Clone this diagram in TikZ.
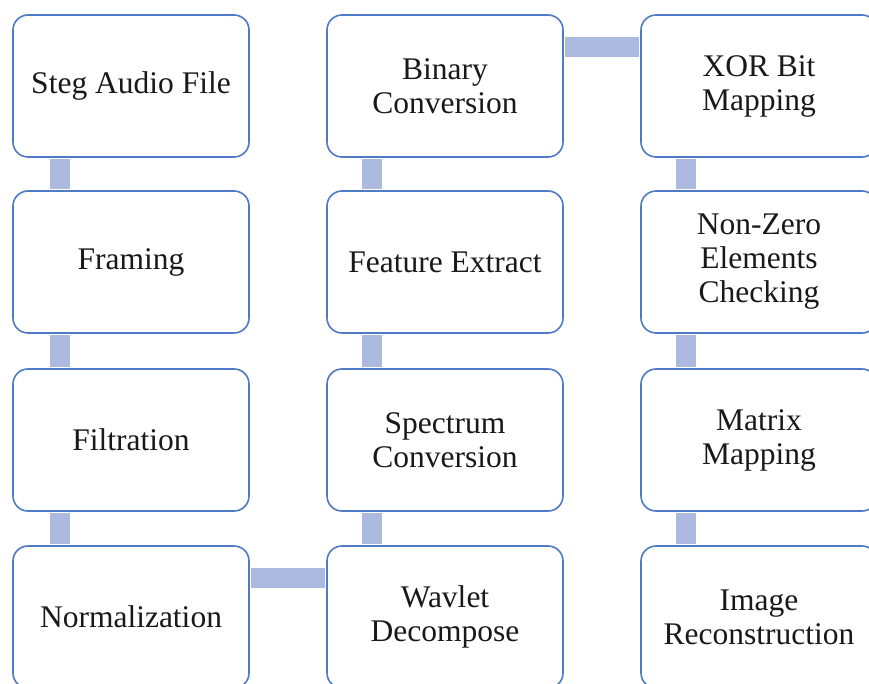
\documentclass[tikz,border=0pt]{standalone}
\usepackage{fontspec}
\setmainfont{Liberation Serif}
\usetikzlibrary{calc}
\definecolor{boxline}{HTML}{4F7BC6}
\definecolor{connfill}{HTML}{ADBADF}
\tikzset{
  stepbox/.style={draw=boxline, line width=1.6pt, fill=white, rounded corners=15pt,
    minimum width=236pt, minimum height=142pt, inner sep=0pt, align=center,
    font=\fontsize{31.5pt}{34pt}\selectfont, text=black!90},
  conn/.style={draw=connfill, line width=20pt}
}
\begin{document}
\begin{tikzpicture}[x=1pt,y=-1pt]
\useasboundingbox (0,0) rectangle (869,684);
% nodes
\node[stepbox] (steg) at (131,86) {Steg Audio File};
\node[stepbox] (fram) at (131,262) {Framing};
\node[stepbox] (filt) at (131,440) {Filtration};
\node[stepbox] (norm) at (131,617) {Normalization};
\node[stepbox] (bin) at (445,86) {Binary\\Conversion};
\node[stepbox] (feat) at (445,262) {Feature Extract};
\node[stepbox] (spec) at (445,440) {Spectrum\\Conversion};
\node[stepbox] (wav) at (445,617) {Wavlet\\Decompose};
\node[stepbox] (xor) at (759,86) {XOR Bit\\Mapping};
\node[stepbox] (nonz) at (759,262) {Non-Zero\\Elements\\Checking};
\node[stepbox] (matr) at (759,440) {Matrix\\Mapping};
\node[stepbox] (img) at (759,617) {Image\\Reconstruction};
% connectors
\draw[conn] ($(steg.south west)+(48,0.8)$) -- ($(fram.north west)+(48,-0.8)$);
\draw[conn] ($(fram.south west)+(48,0.8)$) -- ($(filt.north west)+(48,-0.8)$);
\draw[conn] ($(filt.south west)+(48,0.8)$) -- ($(norm.north west)+(48,-0.8)$);
\draw[conn] ($(norm.north east)+(0.8,33)$) -- ($(wav.north west)+(-0.8,33)$);
\draw[conn] ($(wav.north west)+(46,-0.8)$) -- ($(spec.south west)+(46,0.8)$);
\draw[conn] ($(spec.north west)+(46,-0.8)$) -- ($(feat.south west)+(46,0.8)$);
\draw[conn] ($(feat.north west)+(46,-0.8)$) -- ($(bin.south west)+(46,0.8)$);
\draw[conn] ($(bin.north east)+(0.8,33)$) -- ($(xor.north west)+(-0.8,33)$);
\draw[conn] ($(xor.south west)+(46,0.8)$) -- ($(nonz.north west)+(46,-0.8)$);
\draw[conn] ($(nonz.south west)+(46,0.8)$) -- ($(matr.north west)+(46,-0.8)$);
\draw[conn] ($(matr.south west)+(46,0.8)$) -- ($(img.north west)+(46,-0.8)$);
\end{tikzpicture}
\end{document}
